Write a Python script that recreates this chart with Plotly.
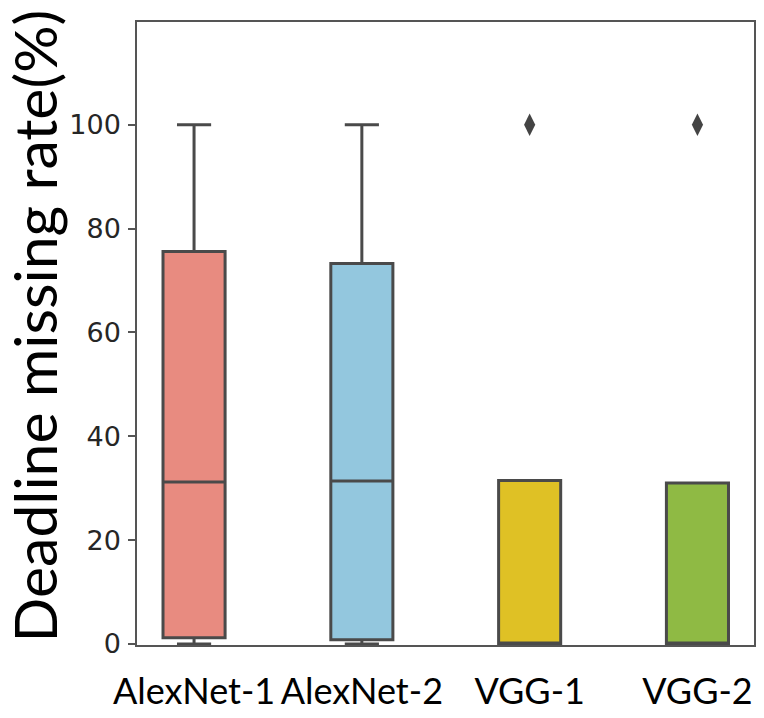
import plotly.graph_objects as go

categories = ["AlexNet-1", "AlexNet-2", "VGG-1", "VGG-2"]
q1 = [1.2, 0.8, 0.0, 0.0]
median = [31.2, 31.4, 0.0, 0.0]
q3 = [75.6, 73.3, 31.5, 31.0]
lowerfence = [0.0, 0.0, 0.0, 0.0]
upperfence = [100.0, 100.0, 31.5, 31.0]
outlier_cats = ["VGG-1", "VGG-2"]
outlier_vals = [100.0, 100.0]
y_ticks = [0, 20, 40, 60, 80, 100]
y_title = "Deadline missing rate(%)"

colors = ["#E88B80", "#93C7DE", "#DFC125", "#8FBA44"]

fig = go.Figure()
for i, cat in enumerate(categories):
    fig.add_trace(go.Box(
        x=[cat], q1=[q1[i]], median=[median[i]], q3=[q3[i]],
        lowerfence=[lowerfence[i]], upperfence=[upperfence[i]],
        fillcolor=colors[i],
        line=dict(color="#4a4a4a", width=3),
        whiskerwidth=0.55,
        width=0.37,
        boxpoints=False,
        showlegend=False,
        hoverinfo="skip",
    ))

fig.add_trace(go.Scatter(
    x=outlier_cats, y=outlier_vals, mode="markers",
    marker=dict(symbol="diamond-tall", size=16, color="#444444"),
    showlegend=False, hoverinfo="skip",
))

fig.update_layout(
    width=756, height=710,
    margin=dict(l=129, r=10, t=14, b=73),
    paper_bgcolor="white", plot_bgcolor="white",
    boxmode="overlay",
)
fig.add_annotation(
    text=y_title, textangle=-90, showarrow=False,
    xref="paper", yref="paper", x=0, y=0.5,
    xanchor="center", yanchor="middle", xshift=-103, yshift=7,
    font=dict(family="Lato", size=59, color="black"),
)
fig.update_xaxes(
    type="category", categoryorder="array", categoryarray=categories,
    range=[-0.34, 3.337], automargin=False,
    showline=True, mirror=True, linecolor="#555555", linewidth=1.5,
    showgrid=False, ticks="", zeroline=False, tickangle=0,
    ticklabelstandoff=14,
    tickfont=dict(family="Lato", size=36, color="black"),
)
fig.update_yaxes(
    range=[-0.2, 119.8], automargin=False,
    tickvals=y_ticks,
    showline=True, mirror=True, linecolor="#555555", linewidth=1.5,
    showgrid=False, zeroline=False,
    ticks="outside", ticklen=7, tickwidth=1.5, tickcolor="#555555",
    ticklabelstandoff=2,
    tickfont=dict(family="DejaVu Sans", size=27, color="#262626"),
)

fig.write_html("out.html")
